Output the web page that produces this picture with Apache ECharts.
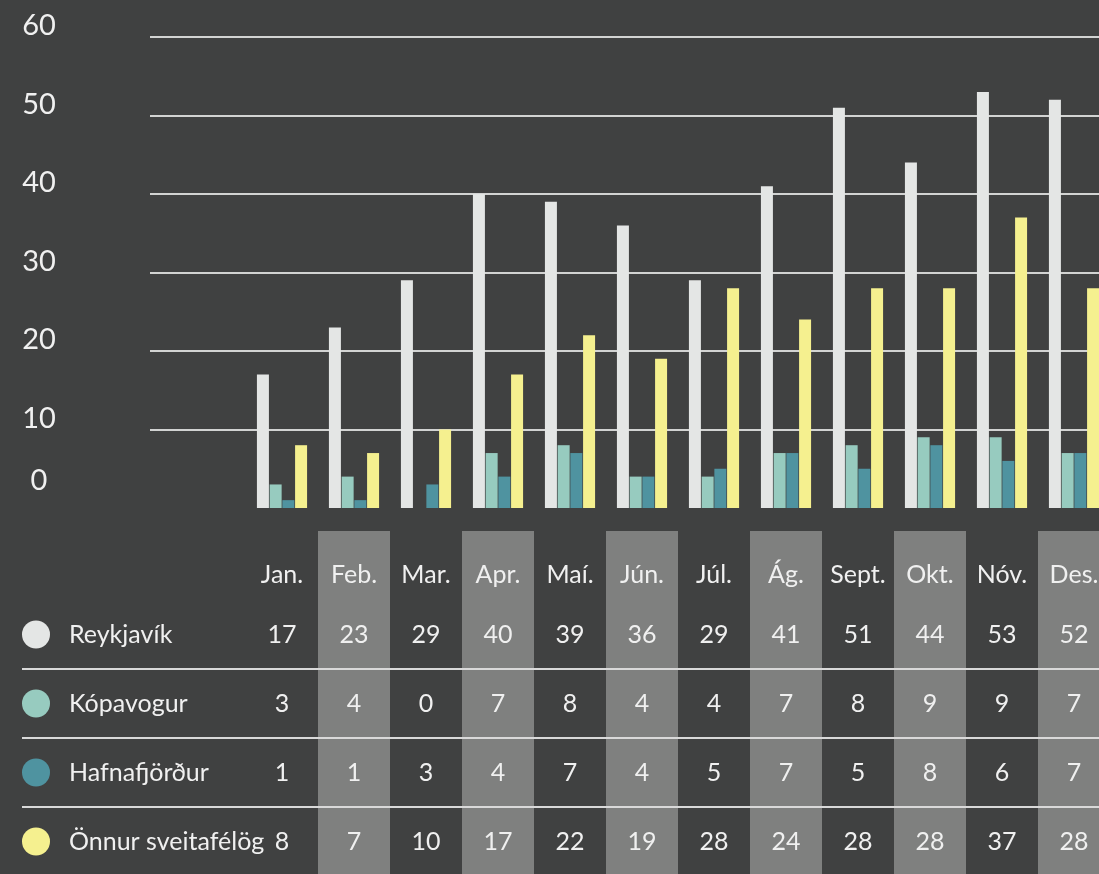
<!DOCTYPE html>
<html><head><meta charset="utf-8">
<script src="https://cdn.jsdelivr.net/npm/echarts@6/dist/echarts.min.js"></script>
<style>html,body{margin:0;padding:0;background:#404141}#c{width:1099px;height:874px}</style>
</head><body><div id="c"></div><script>
const months = ['Jan.','Feb.','Mar.','Apr.','Maí.','Jún.','Júl.','Ág.','Sept.','Okt.','Nóv.','Des.'];
const seriesNames = ['Reykjavík','Kópavogur','Hafnafjörður','Önnur sveitafélög'];
const reykjavik = [17,23,29,40,39,36,29,41,51,44,53,52];
const kopavogur = [3,4,0,7,8,4,4,7,8,9,9,7];
const hafnafjordur = [1,1,3,4,7,4,5,7,5,8,6,7];
const onnur = [8,7,10,17,22,19,28,24,28,28,37,28];
const yMin = 0, yMax = 60, yStep = 10;

const colors = ['#e4e6e5','#97cbbf','#4f93a0','#f5f08f'];
const values = [reykjavik, kopavogur, hafnafjordur, onnur];
const FONT = 'Lato, "Noto Sans", sans-serif';
const TXT = '#f0f0f0';
const TS = 25;

const rowCats = [''].concat(seriesNames);
const rich = { n: { fontFamily: FONT, fontSize: TS, color: TXT, padding: [0,0,0,19] } };
colors.forEach((c,i)=>{ rich['d'+(i+1)] = { backgroundColor: c, width: 28, height: 28, borderRadius: 14 }; });

const tableData = [];
values.forEach((arr, r) => arr.forEach((v, m) => tableData.push([m, r+1, v])));

const chart = echarts.init(document.getElementById('c'));
chart.setOption({
  backgroundColor: '#404141',
  animation: false,
  grid: [
    { left: 150, right: 0, top: 37, height: 471, outerBoundsMode: 'none' },
    { left: 246, width: 864, top: 37, height: 471, outerBoundsMode: 'none' },
    { left: 246, width: 864, top: 531, height: 345, outerBoundsMode: 'none' }
  ],
  xAxis: [
    { gridIndex: 0, type: 'value', show: false },
    { gridIndex: 1, type: 'category', data: months, show: false },
    { gridIndex: 2, type: 'category', data: months, position: 'top',
      axisLine: { show: false }, axisTick: { show: false },
      axisLabel: { inside: true, margin: 44, interval: 0, verticalAlign: 'middle', color: TXT, fontFamily: FONT, fontSize: TS },
      splitArea: { show: true, interval: 0, areaStyle: { color: ['rgba(0,0,0,0)', '#7f807f'] } } }
  ],
  yAxis: [
    { gridIndex: 0, type: 'value', min: yMin, max: yMax, interval: yStep,
      axisLine: { show: false }, axisTick: { show: false },
      splitLine: { show: true, showMinLine: false, lineStyle: { color: '#d2d3d2', width: 2 } },
      axisLabel: { margin: 111, align: 'center', verticalAlign: 'middle',
        formatter: v => v === 0 ? '{z|0}' : '{t|' + v + '}',
        rich: { t: { fontFamily: FONT, fontSize: 29, color: TXT, padding: [0,0,22,0] },
                z: { fontFamily: FONT, fontSize: 29, color: TXT, padding: [0,0,54,0] } } } },
    { gridIndex: 1, type: 'value', min: yMin, max: yMax, interval: yStep, show: false },
    { gridIndex: 2, type: 'category', data: rowCats, inverse: true,
      axisLine: { show: false }, axisTick: { show: false }, splitLine: { show: false },
      axisLabel: { margin: 224, align: 'left', interval: 0,
        formatter: (v, i) => i === 0 ? '' : '{d' + i + '|}{n|' + v + '}', rich: rich } }
  ],
  series: seriesNames.map((name, i) => ({
    name, type: 'bar', xAxisIndex: 1, yAxisIndex: 1, data: values[i],
    barWidth: 12, barGap: '6%', itemStyle: { color: colors[i] }
  })).concat([
    { type: 'custom', xAxisIndex: 2, yAxisIndex: 2, clip: false, z: 3,
      data: [2,3,4].map(r => [0, r]),
      encode: { x: 0, y: 1 },
      renderItem: (params, api) => {
        const p = api.coord([0, api.value(1)]);
        const h = api.size([0, 1])[1];
        const y = Math.round(p[1] - h / 2);
        return { type: 'line', shape: { x1: 22, y1: y, x2: 1099, y2: y },
          style: { stroke: '#d9d9d9', lineWidth: 2 } };
      } },
    { type: 'custom', xAxisIndex: 2, yAxisIndex: 2, clip: false, z: 4,
      data: tableData, encode: { x: 0, y: 1 },
      renderItem: (params, api) => {
        const p = api.coord([api.value(0), api.value(1)]);
        return { type: 'text', x: p[0], y: p[1],
          style: { text: String(api.value(2)), fill: TXT, fontFamily: FONT, fontSize: TS, align: 'center', verticalAlign: 'middle' } };
      } }
  ])
});
</script></body></html>
